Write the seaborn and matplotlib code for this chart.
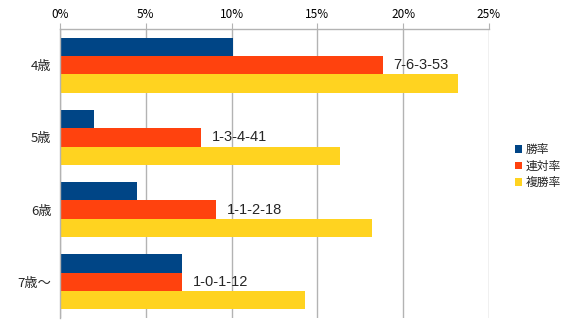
import matplotlib
matplotlib.use("Agg")
import matplotlib.pyplot as plt
import seaborn as sns
import pandas as pd
from matplotlib.ticker import FuncFormatter, FixedLocator
from matplotlib.patches import Patch

categories = ["4歳", "5歳", "6歳", "7歳〜"]
series_names = ["勝率", "連対率", "複勝率"]
win_rate = [10.1, 2.0, 4.5, 7.1]
place2_rate = [18.8, 8.2, 9.1, 7.1]
place3_rate = [23.2, 16.3, 18.2, 14.3]
records = ["7-6-3-53", "1-3-4-41", "1-1-2-18", "1-0-1-12"]
colors = ["#004586", "#ff420e", "#ffd320"]

sns.set_style("white")
plt.rcParams["font.family"] = ["Noto Sans CJK JP", "DejaVu Sans"]

rows = []
for name, vals in zip(series_names, [win_rate, place2_rate, place3_rate]):
    for c, v in zip(categories, vals):
        rows.append({"age": c, "series": name, "value": v})
df = pd.DataFrame(rows)

fig = plt.figure(figsize=(5.74, 3.35), dpi=100)
ax = fig.add_axes([60 / 574, 1 - 318 / 335, (489 - 60) / 574, (318 - 29) / 335])

sns.barplot(data=df, y="age", x="value", hue="series", order=categories,
            hue_order=series_names, palette=colors, orient="h", width=0.76,
            saturation=1, linewidth=0, ax=ax, legend=False, errorbar=None)

ax.set_xlim(0, 25)
ax.set_ylim(3.5, -0.5)
ax.xaxis.tick_top()
ax.xaxis.set_label_position("top")
ax.set_xticks([0, 5, 10, 15, 20, 25])
ax.xaxis.set_major_formatter(FuncFormatter(lambda v, p: f"{int(v)}%"))
ax.set_xlabel("")
ax.set_ylabel("")
ax.grid(axis="x", color="#b3b3b3", linewidth=1)
ax.set_axisbelow(True)
ax.tick_params(axis="x", length=4, color="#b3b3b3", labelsize=8.5, pad=2, labelcolor="#000000")
ax.tick_params(axis="y", which="major", length=0, labelsize=9.5, pad=6)
ax.yaxis.set_minor_locator(FixedLocator([0.5, 1.5, 2.5]))
ax.tick_params(axis="y", which="minor", length=5, color="#b3b3b3", width=1)

for s in ["bottom", "right"]:
    ax.spines[s].set_visible(False)
for s in ["left", "top"]:
    ax.spines[s].set_color("#b3b3b3")
    ax.spines[s].set_linewidth(1)

for i, (rec, v) in enumerate(zip(records, place2_rate)):
    ax.annotate(rec, xy=(v, i), xytext=(8, 0), textcoords="offset points",
                va="center", ha="left", fontsize=10.5,
                fontfamily=["Liberation Sans", "DejaVu Sans"])

handles = [Patch(facecolor=c, edgecolor="none", label=n) for c, n in zip(colors, series_names)]
fig.legend(handles=handles, loc="center left", bbox_to_anchor=(510 / 574, 1 - 166 / 335),
           frameon=False, fontsize=8.5, handlelength=0.6, handleheight=0.6,
           handletextpad=0.3, labelspacing=0.3, borderaxespad=0)

fig.savefig("out.png", dpi=100)
